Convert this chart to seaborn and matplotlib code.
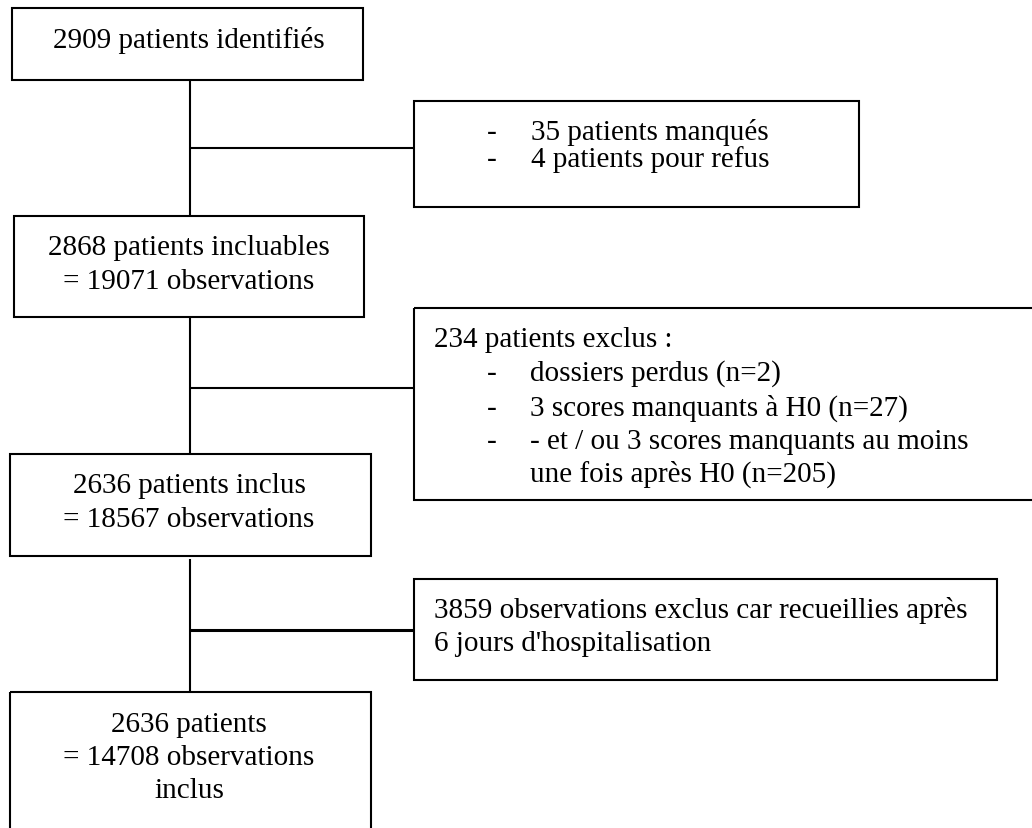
import matplotlib
matplotlib.use("Agg")
import matplotlib.pyplot as plt
import seaborn as sns
from matplotlib.patches import Rectangle

sns.set_theme(style="white")
plt.rcParams["font.family"] = ["Liberation Serif", "DejaVu Serif"]
plt.rcParams["text.color"] = "black"

# textes du diagramme de flux
main_box_1 = ["2909 patients identifiés"]
main_box_2 = ["2868 patients incluables", "= 19071 observations"]
main_box_3 = ["2636 patients inclus", "= 18567 observations"]
main_box_4 = ["2636 patients", "= 14708 observations", "inclus"]

excl_1_items = ["35 patients manqués", "4 patients pour refus"]
excl_2_title = "234 patients exclus :"
excl_2_items = ["dossiers perdus (n=2)",
                "3 scores manquants à H0 (n=27)",
                "- et / ou 3 scores manquants au moins"]
excl_2_tail = "une fois après H0 (n=205)"
excl_3_lines = ["3859 observations exclus car recueillies après",
                "6 jours d'hospitalisation"]

# mise en page (pixels)
W, H = 1032, 829
FS = 21
LW = 1.5

fig = plt.figure(figsize=(W / 100, H / 100), dpi=100)
ax = fig.add_axes([0, 0, 1, 1])
ax.set_xlim(0, W)
ax.set_ylim(H, 0)
ax.axis("off")


def box(x0, y0, x1, y1):
    ax.add_patch(Rectangle((x0, y0), x1 - x0, y1 - y0, fill=False,
                           edgecolor="black", lw=LW, clip_on=True))


def line(xs, ys, lw=LW):
    ax.plot(xs, ys, color="black", lw=lw, solid_capstyle="butt")


# boites
box(12, 9, 363, 81)
box(414, 102, 859, 208)
box(14, 217, 364, 318)
box(414, 309, 1045, 501)
box(10, 455, 371, 557)
box(414, 580, 997, 681)
box(10, 693, 371, 845)

# liaisons
line([190, 190], [81, 217])
line([190, 190], [318, 455])
line([190, 190], [560, 693])
line([190, 414], [149, 149])
line([190, 414], [389, 389])
line([190, 414], [631, 631], lw=2.2)

# textes centres
cx = 189
for lines, base in [(main_box_1, [48]),
                    (main_box_2, [255, 289]),
                    (main_box_3, [493, 527]),
                    (main_box_4, [732, 765, 798])]:
    for t, y in zip(lines, base):
        ax.text(cx, y, t, ha="center", va="baseline", fontsize=FS, color="black")

# exclusions 1
for t, y in zip(excl_1_items, [140, 167]):
    ax.text(487, y, "-", ha="left", va="baseline", fontsize=FS, color="black")
    ax.text(531, y, t, ha="left", va="baseline", fontsize=FS, color="black")

# exclusions 2
ax.text(434, 347, excl_2_title, ha="left", va="baseline", fontsize=FS, color="black")
for t, y in zip(excl_2_items, [381, 416, 449]):
    ax.text(487, y, "-", ha="left", va="baseline", fontsize=FS, color="black")
    ax.text(530, y, t, ha="left", va="baseline", fontsize=FS, color="black")
ax.text(530, 482, excl_2_tail, ha="left", va="baseline", fontsize=FS, color="black")

# exclusions 3
for t, y in zip(excl_3_lines, [618, 651]):
    ax.text(434, y, t, ha="left", va="baseline", fontsize=FS, color="black")

fig.savefig("out.png", dpi=100, facecolor="white")
